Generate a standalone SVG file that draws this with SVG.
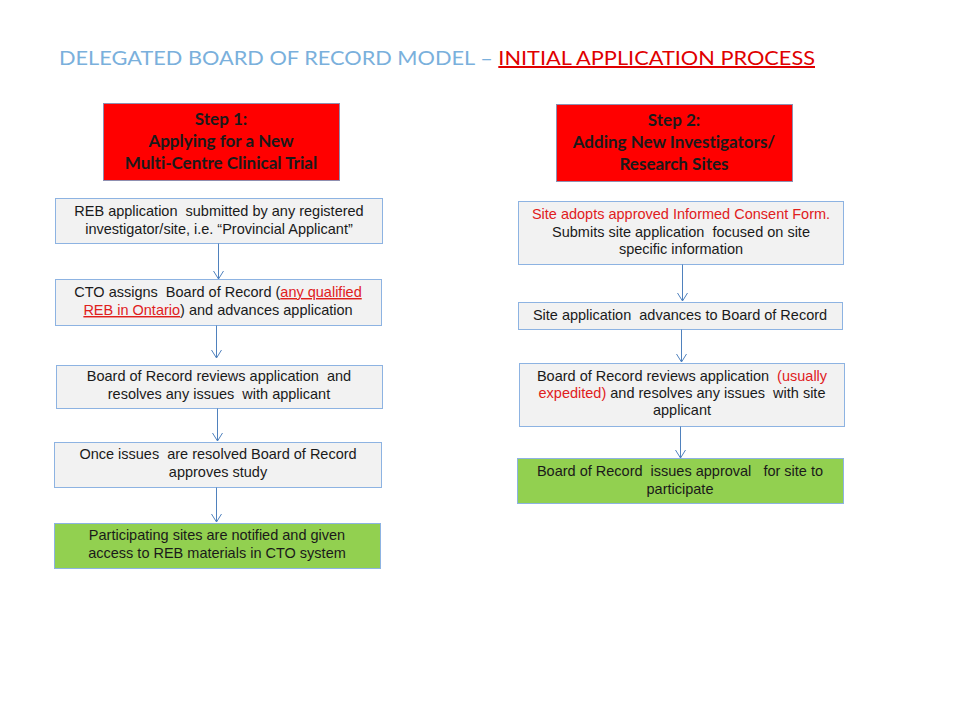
<svg xmlns="http://www.w3.org/2000/svg" width="960" height="720" viewBox="0 0 960 720">
<defs>
<style>
.step{fill:#ff0000;stroke:#8f8fb0;stroke-width:1}
.box{fill:#f2f2f2;stroke:#8db3e2;stroke-width:1}
.green{fill:#92d050;stroke:#8db3e2;stroke-width:1}
.st{font-family:Lato,"Open Sans",sans-serif;font-weight:bold;font-size:17px;fill:#1a1a1a;text-anchor:middle;font-variant-ligatures:none}
.t{font-family:"Liberation Sans",Arial,sans-serif;font-size:14.5px;fill:#1a1a1a;text-anchor:middle;white-space:pre}
.r{fill:#e0201c}
.u{text-decoration:underline}
.conn{stroke:#4f81bd;stroke-width:1;fill:none}
</style>
<marker id="arr" markerWidth="12" markerHeight="12" refX="10" refY="6" orient="auto" markerUnits="userSpaceOnUse" viewBox="0 0 12 12">
<path d="M2,1 L10,6 L2,11" fill="none" stroke="#4f81bd" stroke-width="1"/>
</marker>
</defs>
<rect width="960" height="720" fill="#ffffff"/>
<text x="59" y="65" font-family="Lato,'Open Sans',sans-serif" font-size="20" fill="#7ab0dc" textLength="756" lengthAdjust="spacingAndGlyphs" style="font-variant-ligatures:none">DELEGATED BOARD OF RECORD MODEL – <tspan fill="#e00000" text-decoration="underline">INITIAL APPLICATION PROCESS</tspan></text>

<g id="step1">
<rect class="step" x="103.5" y="103.5" width="236" height="77"/>
<text class="st" x="221" y="125">Step 1:</text>
<text class="st" x="221" y="147">Applying for a New</text>
<text class="st" x="221" y="169">Multi-Centre Clinical Trial</text>
</g>
<g id="n1">
<rect class="box" x="55.5" y="198.5" width="327" height="45"/>
<text class="t" x="219" y="216" xml:space="preserve">REB application  submitted by any registered</text>
<text class="t" x="219" y="234">investigator/site, i.e. “Provincial Applicant”</text>
</g>
<g id="n2">
<rect class="box" x="55.5" y="279.5" width="326" height="46"/>
<text class="t" x="218" y="297" xml:space="preserve">CTO assigns  Board of Record (<tspan class="r u">any qualified</tspan></text>
<text class="t" x="218" y="315"><tspan class="r u">REB in Ontario</tspan>) and advances application</text>
</g>
<g id="n3">
<rect class="box" x="56.5" y="365.5" width="326" height="43"/>
<text class="t" x="219" y="381" xml:space="preserve">Board of Record reviews application  and</text>
<text class="t" x="219" y="399" xml:space="preserve">resolves any issues  with applicant</text>
</g>
<g id="n4">
<rect class="box" x="54.5" y="442.5" width="327" height="45"/>
<text class="t" x="218" y="459" xml:space="preserve">Once issues  are resolved Board of Record</text>
<text class="t" x="218" y="477">approves study</text>
</g>
<g id="n5">
<rect class="green" x="54.5" y="523.5" width="326" height="45"/>
<text class="t" x="217" y="540">Participating sites are notified and given</text>
<text class="t" x="217" y="558">access to REB materials in CTO system</text>
</g>

<g id="step2">
<rect class="step" x="556.5" y="104.5" width="236" height="77"/>
<text class="st" x="674" y="126">Step 2:</text>
<text class="st" x="674" y="148">Adding New Investigators/</text>
<text class="st" x="674" y="170">Research Sites</text>
</g>
<g id="m1">
<rect class="box" x="518.5" y="201.5" width="325" height="63"/>
<text class="t r" x="681" y="219">Site adopts approved Informed Consent Form.</text>
<text class="t" x="681" y="237" xml:space="preserve">Submits site application  focused on site</text>
<text class="t" x="681" y="254">specific information</text>
</g>
<g id="m2">
<rect class="box" x="518.5" y="302.5" width="324" height="27"/>
<text class="t" x="680" y="320" xml:space="preserve">Site application  advances to Board of Record</text>
</g>
<g id="m3">
<rect class="box" x="519.5" y="363.5" width="325" height="63"/>
<text class="t" x="682" y="381" xml:space="preserve">Board of Record reviews application  <tspan class="r">(usually</tspan></text>
<text class="t" x="682" y="398" xml:space="preserve"><tspan class="r">expedited)</tspan> and resolves any issues  with site</text>
<text class="t" x="682" y="415">applicant</text>
</g>
<g id="m4">
<rect class="green" x="517.5" y="458.5" width="326" height="45"/>
<text class="t" x="680" y="476" xml:space="preserve">Board of Record  issues approval   for site to</text>
<text class="t" x="680" y="494">participate</text>
</g>

<g id="connectors">
<line class="conn" x1="218.5" y1="243.5" x2="218.5" y2="279" marker-end="url(#arr)"/>
<line class="conn" x1="216.5" y1="325.5" x2="216.5" y2="358" marker-end="url(#arr)"/>
<line class="conn" x1="217.5" y1="408.5" x2="217.5" y2="441" marker-end="url(#arr)"/>
<line class="conn" x1="216.5" y1="487.5" x2="216.5" y2="522" marker-end="url(#arr)"/>
<line class="conn" x1="682.5" y1="264.5" x2="682.5" y2="301" marker-end="url(#arr)"/>
<line class="conn" x1="681.5" y1="329.5" x2="681.5" y2="362" marker-end="url(#arr)"/>
<line class="conn" x1="680.5" y1="426.5" x2="680.5" y2="458" marker-end="url(#arr)"/>
</g>
</svg>
